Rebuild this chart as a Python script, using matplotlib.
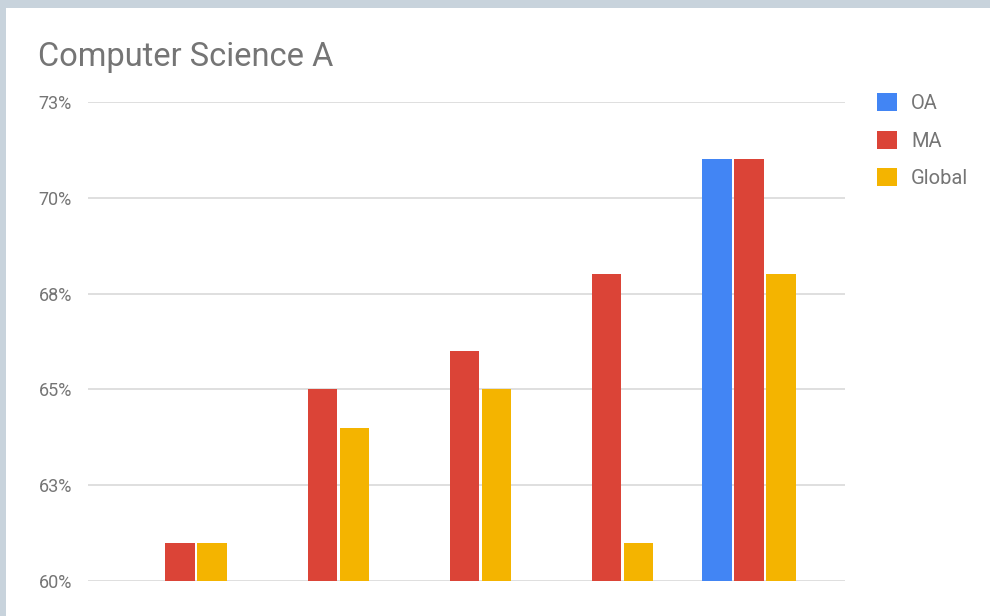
import matplotlib.pyplot as plt
import matplotlib.patches as patches
import numpy as np

plt.rcParams['font.family'] = ['Roboto', 'DejaVu Sans']

series = ['OA', 'MA', 'Global']
oa = [np.nan, np.nan, np.nan, np.nan, 71]
ma = [61, 65, 66, 68, 71]
glob = [61, 64, 65, 61, 68]
yticks = [60, 62.5, 65, 67.5, 70, 72.5]
ylabels = ['60%', '63%', '65%', '68%', '70%', '73%']

colors = ['#4285f4', '#db4437', '#f4b400']
grey = '#757575'

fig = plt.figure(figsize=(9.9, 6.16), dpi=100)
fig.patch.set_facecolor('#c8d3dc')
fig.patches.append(patches.Rectangle((6 / 990, 0), 1, 1 - 8 / 616, transform=fig.transFigure,
                                     facecolor='white', edgecolor='none', zorder=-10))

ax = fig.add_axes([88 / 990, 1 - 581 / 616, (845 - 88) / 990, (581 - 102) / 616])
ax.set_facecolor('none')

x = np.arange(len(ma))
w = 0.205
off = 0.225
for i, (vals, c, name) in enumerate(zip([oa, ma, glob], colors, series)):
    ax.bar(x + (i - 1) * off, vals, width=w, color=c, label=name, zorder=3)

ax.set_ylim(60, 72.5)
ax.set_xlim(-0.647, 4.675)
ax.set_yticks(yticks)
ax.set_yticklabels(ylabels)
ax.set_xticks([])
ax.tick_params(axis='y', length=0, pad=11.5, labelsize=13, labelcolor=grey)
ax.grid(axis='y', color='#d6d6d6', linewidth=1.1, zorder=0)
for s in ax.spines.values():
    s.set_visible(False)

fig.text(38 / 990, 1 - 66 / 616, 'Computer Science A', fontsize=23.5, color=grey, va='baseline')

leg = ax.legend(loc='upper left', bbox_to_anchor=(877 / 990, 1 - 93 / 616),
                bbox_transform=fig.transFigure, frameon=False, fontsize=14.5,
                handlelength=1.0, handleheight=1.0, handletextpad=0.7,
                labelspacing=0.88, borderaxespad=0, borderpad=0)
for t in leg.get_texts():
    t.set_color(grey)

plt.savefig('out.png', dpi=100)
